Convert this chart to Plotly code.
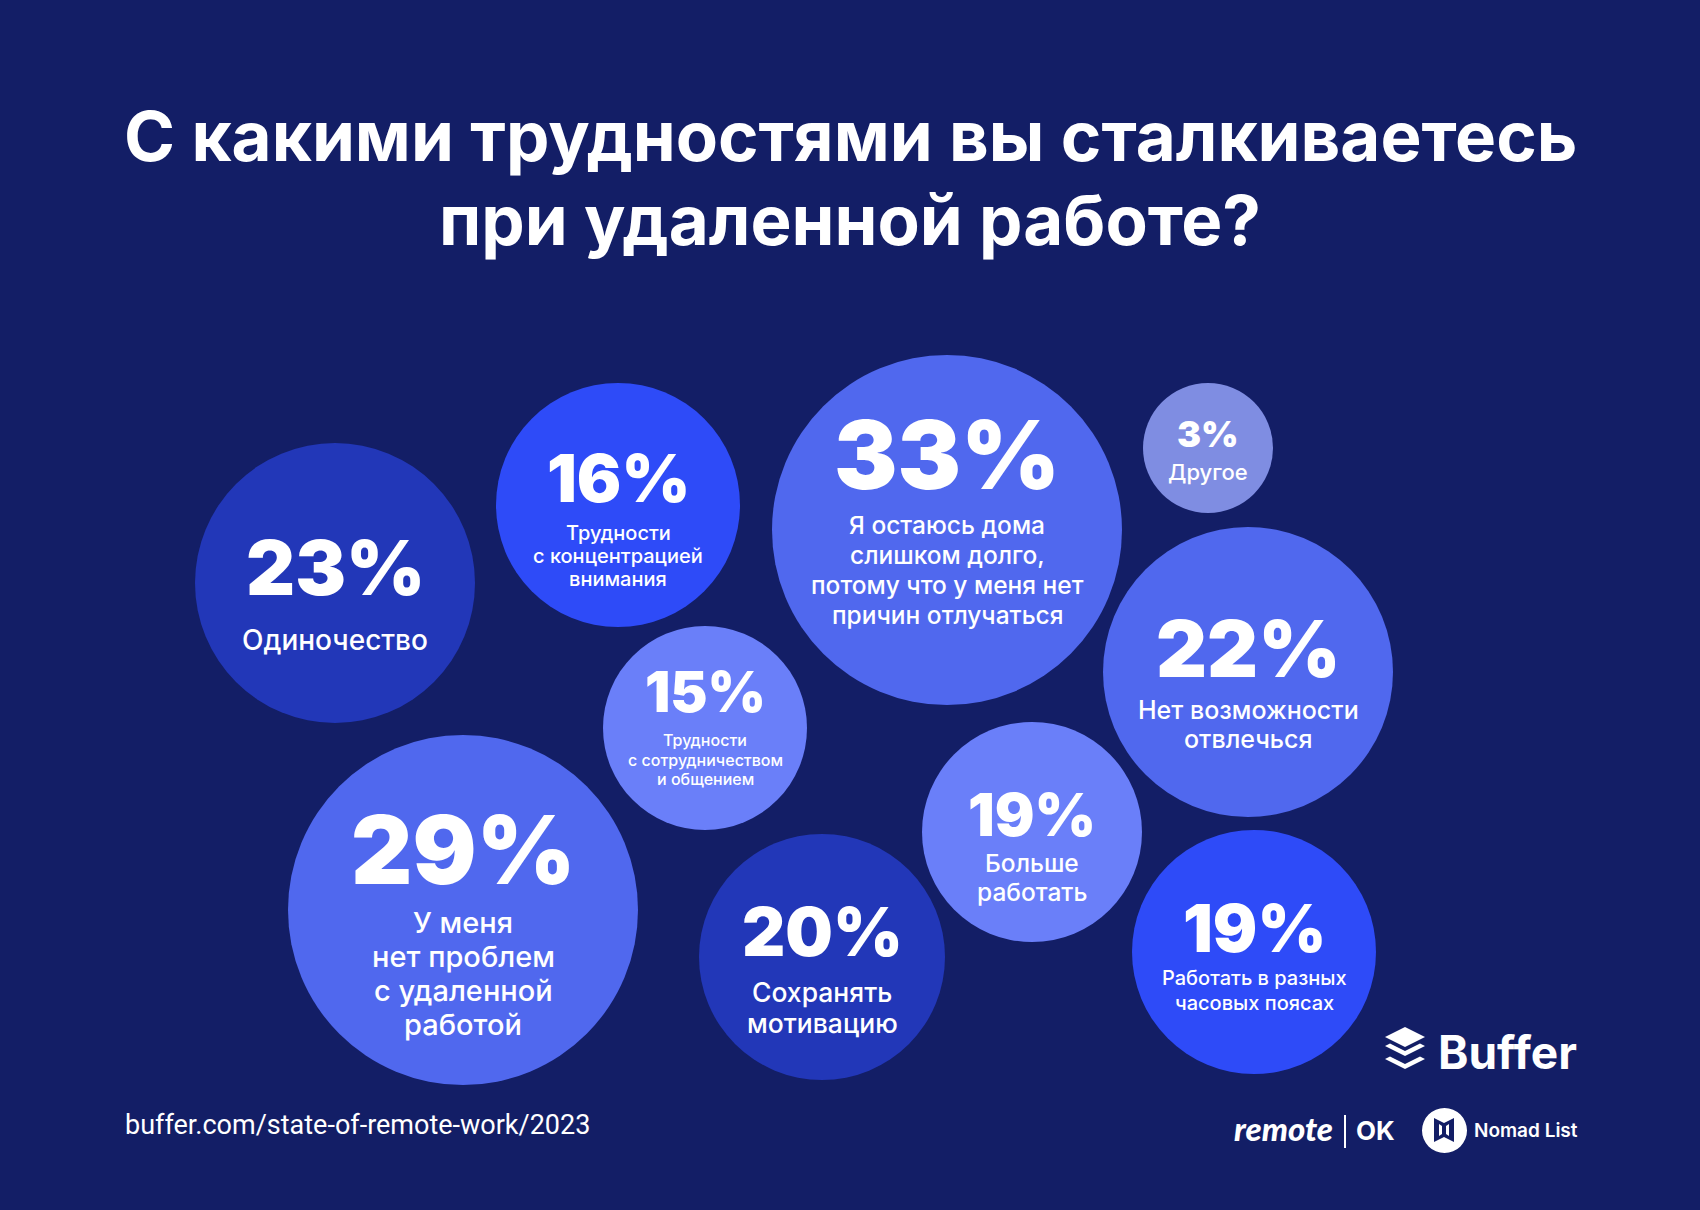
import plotly.graph_objects as go

W, H = 1700, 1210
BG = "#131E66"

# ---------------- data ----------------
values = [23, 16, 33, 3, 22, 29, 15, 20, 19, 19]
labels = [
    "Одиночество",
    "Трудности\nс концентрацией\nвнимания",
    "Я остаюсь дома\nслишком долго,\nпотому что у меня нет\nпричин отлучаться",
    "Другое",
    "Нет возможности\nотвлечься",
    "У меня\nнет проблем\nс удаленной\nработой",
    "Трудности\nс сотрудничеством\nи общением",
    "Сохранять\nмотивацию",
    "Больше\nработать",
    "Работать в разных\nчасовых поясах",
]
title_lines = ["С какими трудностями вы сталкиваетесь", "при удаленной работе?"]
source = "buffer.com/state-of-remote-work/2023"

# ---------------- layout / style ----------------
cx = [335, 618, 947, 1208, 1248, 463, 705, 822, 1032, 1254]
cy = [583, 505, 530, 448, 672, 910, 728, 957, 832, 952]
radius = [140, 122, 175, 65, 145, 175, 102, 123, 110, 122]
C_DARK, C_BRIGHT, C_MID, C_LIGHT, C_GREY = "#2237B8", "#2E4BF8", "#5068EE", "#6A7FF9", "#7F8DE2"
colors = [C_DARK, C_BRIGHT, C_MID, C_GREY, C_MID, C_MID, C_LIGHT, C_DARK, C_LIGHT, C_BRIGHT]
pct_y = [567, 478, 454, 434, 648, 849, 692, 931, 814, 928]
pct_size = [76, 66, 95, 36, 79, 95, 56, 67, 59, 66]
lab_y0 = [640, 533, 525, 472, 710, 922, 740, 992, 863, 978]
lab_size = [28, 20, 24.5, 22, 25, 29, 16, 26.5, 24.5, 20]
lab_step = [0, 23, 30, 0, 29, 34, 19.5, 31, 29, 25]

FONT_B = "Inter"
FONT_R = "Inter"

fig = go.Figure()

fig.add_trace(go.Scatter(
    x=cx, y=cy, mode="markers",
    marker=dict(size=[2 * r for r in radius], color=colors, line=dict(width=0), opacity=1),
    hoverinfo="skip", showlegend=False,
))

ann = []
for i, v in enumerate(values):
    ann.append(dict(x=cx[i], y=pct_y[i], xref="x", yref="y", text=f"{v}%", showarrow=False,
                    xanchor="center", yanchor="middle",
                    font=dict(family=FONT_B, size=pct_size[i], color="white", weight=900)))
    for j, line in enumerate(labels[i].split("\n")):
        ann.append(dict(x=cx[i], y=lab_y0[i] + j * lab_step[i], xref="x", yref="y", text=line,
                        showarrow=False, xanchor="center", yanchor="middle",
                        font=dict(family=FONT_R, size=lab_size[i], color="white", weight=500)))

# title
for t, yy in zip(title_lines, [136, 220]):
    ann.append(dict(x=850, y=yy, xref="x", yref="y", text=t, showarrow=False,
                    xanchor="center", yanchor="middle",
                    font=dict(family=FONT_B, size=69, color="white", weight=700)))

# source
ann.append(dict(x=123, y=1125, xref="x", yref="y", text=source, showarrow=False,
                xanchor="left", yanchor="middle",
                font=dict(family="Roboto", size=27, color="white")))

# logos text
ann.append(dict(x=1436, y=1052, xref="x", yref="y", text="Buffer", showarrow=False,
                xanchor="left", yanchor="middle",
                font=dict(family=FONT_B, size=46, color="white", weight=700)))
ann.append(dict(x=1335, y=1128, xref="x", yref="y", text="<i>remote</i>", showarrow=False,
                xanchor="right", yanchor="middle",
                font=dict(family="Lato", size=33, color="white", weight=900)))
ann.append(dict(x=1354, y=1130, xref="x", yref="y", text="OK", showarrow=False,
                xanchor="left", yanchor="middle",
                font=dict(family=FONT_B, size=26, color="white", weight=700)))
ann.append(dict(x=1472, y=1130, xref="x", yref="y", text="Nomad List", showarrow=False,
                xanchor="left", yanchor="middle",
                font=dict(family=FONT_B, size=19, color="white", weight=600)))

shapes = []
# Buffer icon
shapes.append(dict(type="path", xref="x", yref="y", line=dict(width=0), fillcolor="white",
                   path="M 1385 1037 L 1405 1027 L 1425 1037 L 1405 1047 Z"))
for dy in [0, 13]:
    shapes.append(dict(type="path", xref="x", yref="y", line=dict(width=0), fillcolor="white",
                       path=f"M 1385 {1046+dy} L 1390 {1043.5+dy} L 1405 {1051+dy} L 1420 {1043.5+dy} "
                            f"L 1425 {1046+dy} L 1405 {1056+dy} Z"))
# remote | OK divider
shapes.append(dict(type="line", xref="x", yref="y", x0=1345, x1=1345, y0=1115, y1=1148,
                   line=dict(color="white", width=2)))
# Nomad List circle + map glyph
shapes.append(dict(type="circle", xref="x", yref="y", x0=1422, x1=1467, y0=1108, y1=1153,
                   fillcolor="white", line=dict(width=0)))
shapes.append(dict(type="path", xref="x", yref="y", line=dict(width=0), fillcolor=BG,
                   path="M 1434 1118 L 1444 1123 L 1454 1118 L 1454 1142 L 1444 1137 L 1434 1142 Z"))
shapes.append(dict(type="path", xref="x", yref="y", line=dict(width=0), fillcolor="white",
                   path="M 1439 1124 L 1442 1126 L 1442 1134 L 1439 1136 Z"))
shapes.append(dict(type="path", xref="x", yref="y", line=dict(width=0), fillcolor="white",
                   path="M 1446 1126 L 1449 1124 L 1449 1136 L 1446 1134 Z"))

fig.update_layout(
    width=W, height=H,
    margin=dict(l=0, r=0, t=0, b=0),
    paper_bgcolor=BG, plot_bgcolor=BG,
    xaxis=dict(range=[0, W], visible=False, fixedrange=True),
    yaxis=dict(range=[H, 0], visible=False, fixedrange=True),
    annotations=ann, shapes=shapes,
    showlegend=False,
)

fig.write_html(
    "out.html",
    config={"displayModeBar": False},
    post_script="document.body.style.margin='0';document.body.style.padding='0';"
                "document.body.style.background='" + BG + "';"
                "document.documentElement.style.overflow='hidden';",
)
